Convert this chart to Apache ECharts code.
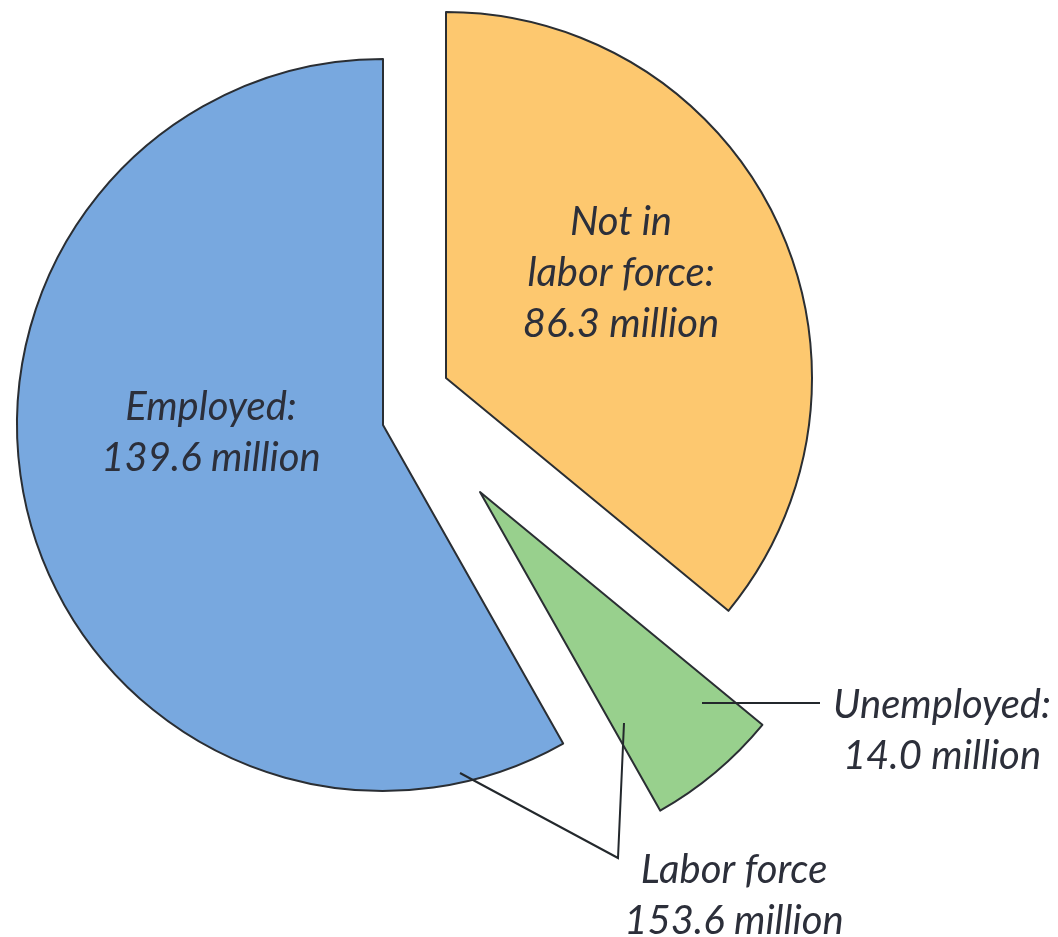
<!DOCTYPE html>
<html>
<head>
<meta charset="utf-8">
<script src="https://cdn.jsdelivr.net/npm/echarts@6/dist/echarts.min.js"></script>
<style>
html,body{margin:0;padding:0;background:#fff;}
#main{width:1058px;height:937px;}
</style>
</head>
<body>
<div id="main"></div>
<script>
// Data (millions)
const categories = ['Not in labor force', 'Unemployed', 'Employed'];
const values = [86.3, 14.0, 139.6];
const labelTexts = ['Not in\nlabor force:', 'Unemployed:', 'Employed:'];
const colors = ['#fdc86f', '#98d08d', '#78a8df'];

const chart = echarts.init(document.getElementById('main'));

// each slice drawn by its own pie series (exploded with individual offsets)
const centers = [[446, 378], [480, 492], [383, 425]];
const R = 366;

const series = categories.map((c, si) => ({
  type: 'pie',
  center: centers[si],
  radius: [0, R],
  startAngle: 90,
  clockwise: true,
  silent: true,
  animation: false,
  label: { show: false },
  labelLine: { show: false },
  emphasis: { disabled: true },
  data: categories.map((name, i) => ({
    name: name,
    value: values[i],
    itemStyle: i === si
      ? { color: colors[i], borderColor: '#2a2e33', borderWidth: 2 }
      : { color: 'rgba(0,0,0,0)', borderWidth: 0 }
  }))
}));

const fmt = v => v.toFixed(1) + ' million';
const laborForce = values[1] + values[2];
const font = 'italic 40px Lato, "Open Sans", sans-serif';
const txtColor = '#2c2f3a';

function txt(x, y, s) {
  return {
    type: 'text', x: x, y: y, z: 100, silent: true,
    style: { text: s, font: font, fill: txtColor, align: 'center', verticalAlign: 'middle', lineHeight: 51 }
  };
}

const graphic = [
  // leader lines
  { type: 'polyline', z: 100, silent: true, shape: { points: [[702, 703], [820, 703]] }, style: { stroke: '#23282c', lineWidth: 2, fill: null } },
  { type: 'polyline', z: 100, silent: true, shape: { points: [[460, 773], [618, 858], [624, 723]] }, style: { stroke: '#23282c', lineWidth: 2, fill: null } },
  txt(621, 273, labelTexts[0] + '\n' + fmt(values[0])),
  txt(942, 731, labelTexts[1] + '\n' + fmt(values[1])),
  txt(211, 433, labelTexts[2] + '\n' + fmt(values[2])),
  txt(734, 896, 'Labor force\n' + fmt(laborForce))
];

chart.setOption({
  backgroundColor: '#ffffff',
  animation: false,
  series: series,
  graphic: graphic
});
</script>
</body>
</html>
